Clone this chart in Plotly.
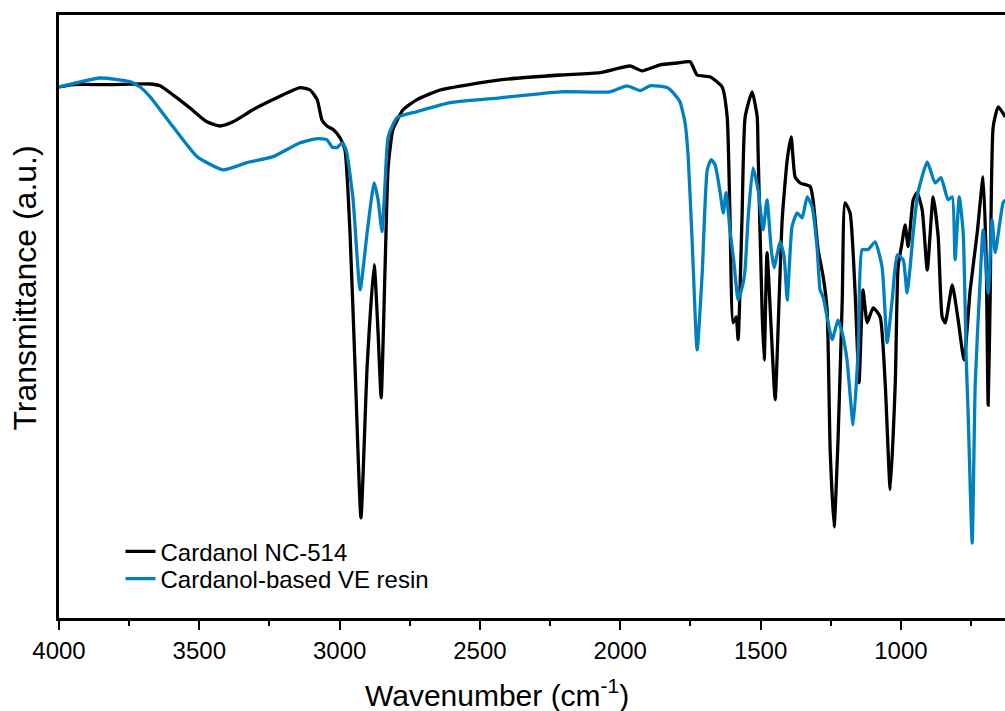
import plotly.graph_objects as go

# Cardanol NC-514 (black)
wn_cardanol = [4000, 3950, 3818, 3676, 3640, 3594, 3533, 3473, 3426, 3380, 3309, 3237, 3141, 3105,
               3080, 3063, 3045, 3023, 2998, 2981, 2963, 2945, 2924, 2902, 2877, 2863, 2852, 2838,
               2827, 2810, 2774, 2724, 2642, 2428, 2214, 2072, 1965, 1922, 1858, 1797, 1751, 1726,
               1680, 1637, 1619, 1609, 1598, 1587, 1580, 1566, 1555, 1530, 1512, 1509, 1494, 1487,
               1477, 1462, 1448, 1434, 1423, 1405, 1391, 1377, 1359, 1323, 1313, 1295, 1277, 1263,
               1252, 1238, 1224, 1209, 1199, 1181, 1163, 1149, 1135, 1120, 1099, 1074, 1056, 1038,
               1020, 1010, 996, 985, 974, 956, 942, 924, 906, 885, 867, 853, 842, 817, 796, 775,
               753, 728, 707, 696, 689, 682, 671, 653, 628]
t_cardanol = [88.3, 88.7, 88.7, 88.8, 88.5, 87.0, 84.8, 82.5, 81.8, 82.5, 84.5, 86.2, 88.2, 87.8,
              86.2, 82.8, 81.8, 81.2, 79.8, 77.8, 64.0, 41.7, 16.5, 41.7, 58.7, 47.3, 36.5, 58.3,
              75.0, 81.2, 84.5, 86.2, 87.8, 89.5, 90.3, 90.7, 91.8, 91.0, 92.0, 92.3, 92.5, 90.3,
              90.0, 88.3, 83.3, 66.7, 49.0, 50.0, 46.2, 66.7, 83.3, 87.5, 83.3, 77.8, 50.0, 42.8,
              60.7, 47.8, 36.2, 52.8, 66.2, 76.2, 80.0, 73.3, 72.3, 71.7, 69.5, 61.2, 56.7, 51.2,
              27.8, 15.0, 29.5, 52.8, 69.0, 67.3, 54.0, 39.0, 54.5, 49.0, 51.5, 50.0, 39.0, 21.2,
              39.0, 58.3, 62.3, 65.3, 61.7, 69.5, 70.7, 67.8, 57.8, 70.0, 63.3, 50.0, 49.0, 55.3,
              49.5, 42.8, 54.5, 64.0, 73.3, 59.5, 35.3, 52.8, 81.7, 85.0, 83.3]

# Cardanol-based VE resin (blue)
wn_resin = [4000, 3854, 3747, 3711, 3676, 3594, 3508, 3415, 3330, 3237, 3141, 3080, 3045, 3027,
            3009, 2991, 2981, 2974, 2952, 2927, 2902, 2877, 2863, 2849, 2838, 2827, 2795, 2724,
            2606, 2428, 2214, 2036, 1976, 1929, 1894, 1833, 1805, 1787, 1769, 1758, 1744, 1726,
            1708, 1690, 1676, 1662, 1644, 1633, 1623, 1609, 1594, 1580, 1562, 1555, 1544, 1527,
            1509, 1491, 1477, 1462, 1452, 1430, 1416, 1405, 1388, 1370, 1352, 1334, 1316, 1298,
            1288, 1277, 1245, 1224, 1209, 1192, 1170, 1152, 1138, 1117, 1092, 1067, 1049, 1031,
            1013, 992, 978, 967, 956, 939, 906, 878, 857, 832, 817, 807, 792, 778, 767, 760,
            746, 735, 718, 707, 689, 675, 664, 636, 628]
t_resin = [88.3, 89.8, 89.2, 88.3, 86.7, 81.7, 76.7, 74.5, 75.7, 76.7, 79.0, 79.7, 79.5, 78.3,
           78.2, 79.0, 78.3, 77.3, 69.5, 54.5, 64.0, 72.3, 69.5, 64.2, 72.3, 80.0, 83.2, 84.2,
           85.7, 86.5, 87.5, 87.5, 88.5, 87.7, 88.5, 88.2, 87.0, 85.8, 82.3, 76.7, 62.8, 44.5,
           57.3, 74.5, 76.2, 75.3, 70.7, 67.3, 70.7, 64.5, 58.7, 52.8, 55.7, 58.0, 66.7, 74.8,
           71.2, 64.5, 69.5, 61.2, 58.2, 62.5, 60.0, 52.8, 65.0, 67.3, 66.5, 70.0, 68.3, 61.2,
           54.5, 53.3, 46.2, 49.5, 47.3, 42.8, 32.0, 44.5, 61.2, 61.2, 62.5, 58.3, 45.7, 52.8,
           60.3, 59.5, 54.0, 58.3, 64.0, 70.7, 75.8, 72.3, 73.2, 69.5, 70.0, 59.5, 70.0, 64.0,
           42.8, 33.3, 12.3, 39.0, 55.7, 64.5, 54.0, 66.2, 60.7, 69.0, 69.5]

x_ticks = [4000, 3500, 3000, 2500, 2000, 1500, 1000]

FONT = "Arial, 'Liberation Sans', sans-serif"

fig = go.Figure()
fig.add_trace(go.Scatter(x=wn_cardanol, y=t_cardanol, mode="lines", name="Cardanol NC-514",
                         legend="legend",
                         line=dict(color="black", width=3.3, shape="spline", smoothing=0.5)))
fig.add_trace(go.Scatter(x=wn_resin, y=t_resin, mode="lines", name="Cardanol-based VE resin",
                         legend="legend2",
                         line=dict(color="#0080C0", width=3.3, shape="spline", smoothing=0.5)))

leg_common = dict(xanchor="left", yanchor="top", bgcolor="rgba(0,0,0,0)",
                  font=dict(size=24, family=FONT, color="black"))

fig.update_layout(
    width=1005, height=711,
    margin=dict(l=59, r=0, t=15, b=93),
    paper_bgcolor="white", plot_bgcolor="white",
    font=dict(family=FONT, color="black"),
    showlegend=True,
    legend=dict(x=0.065, y=0.147, **leg_common),
    legend2=dict(x=0.065, y=0.102, **leg_common),
    annotations=[
        dict(text="Transmittance (a.u.)", textangle=-90, xref="paper", yref="paper",
             x=-0.036, y=0.548, xanchor="center", yanchor="middle", showarrow=False,
             font=dict(size=32, family=FONT, color="black")),
        dict(text="Wavenumber (cm<sup>-1</sup>)", xref="paper", yref="paper",
             x=0.463, y=-0.124, xanchor="center", yanchor="middle", showarrow=False,
             font=dict(size=30, family=FONT, color="black")),
    ],
)
fig.update_xaxes(
    range=[4000, 629], tickvals=x_ticks, ticktext=[str(v) for v in x_ticks],
    showgrid=False, zeroline=False,
    showline=True, linecolor="black", linewidth=2.5, mirror=True,
    ticks="outside", ticklen=9, tickwidth=2, tickcolor="black",
    minor=dict(dtick=250, tick0=0, ticks="outside", ticklen=5, tickwidth=2, tickcolor="black"),
    tickfont=dict(size=24, family=FONT),
    automargin=False,
)
fig.update_yaxes(
    range=[-0.2, 100.3], showticklabels=False, ticks="",
    showgrid=False, zeroline=False,
    showline=True, linecolor="black", linewidth=2.5,
    automargin=False,
)

fig.write_html("out.html",
               config={"displayModeBar": False},
               post_script="document.body.style.margin='0';document.body.style.overflow='hidden';")
